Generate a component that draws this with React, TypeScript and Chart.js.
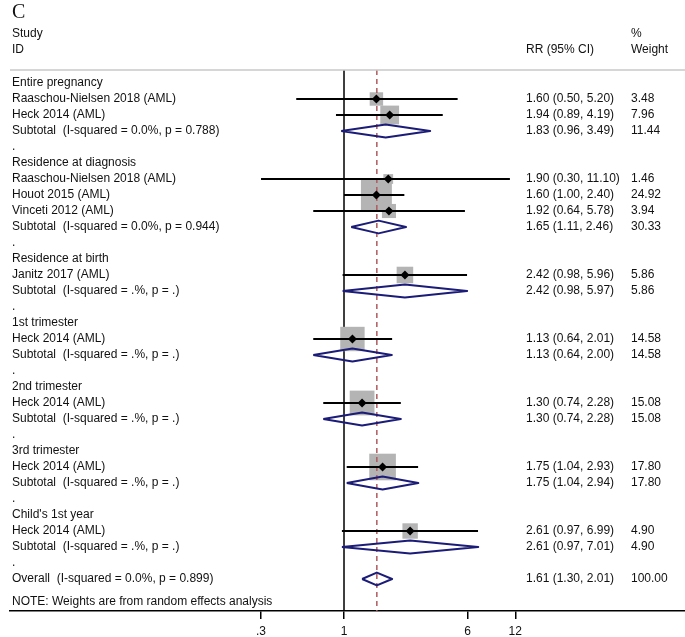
import React, { useEffect, useRef } from "react";
import { Chart, registerables } from "chart.js";

Chart.register(...registerables);

const rowLabels: string[] = [
  "Entire pregnancy",
  "Raaschou-Nielsen 2018 (AML)",
  "Heck 2014 (AML)",
  "Subtotal  (I-squared = 0.0%, p = 0.788)",
  ".",
  "Residence at diagnosis",
  "Raaschou-Nielsen 2018 (AML)",
  "Houot 2015 (AML)",
  "Vinceti 2012 (AML)",
  "Subtotal  (I-squared = 0.0%, p = 0.944)",
  ".",
  "Residence at birth",
  "Janitz 2017 (AML)",
  "Subtotal  (I-squared = .%, p = .)",
  ".",
  "1st trimester",
  "Heck 2014 (AML)",
  "Subtotal  (I-squared = .%, p = .)",
  ".",
  "2nd trimester",
  "Heck 2014 (AML)",
  "Subtotal  (I-squared = .%, p = .)",
  ".",
  "3rd trimester",
  "Heck 2014 (AML)",
  "Subtotal  (I-squared = .%, p = .)",
  ".",
  "Child's 1st year",
  "Heck 2014 (AML)",
  "Subtotal  (I-squared = .%, p = .)",
  ".",
  "Overall  (I-squared = 0.0%, p = 0.899)",
];

// h = group heading, s = study, t = subtotal / overall, g = blank
const rowKinds: string[] = [
  "h", "s", "s", "t", "g",
  "h", "s", "s", "s", "t", "g",
  "h", "s", "t", "g",
  "h", "s", "t", "g",
  "h", "s", "t", "g",
  "h", "s", "t", "g",
  "h", "s", "t", "g",
  "t",
];

const rr: (number | null)[] = [
  null, 1.6, 1.94, 1.83, null,
  null, 1.9, 1.6, 1.92, 1.65, null,
  null, 2.42, 2.42, null,
  null, 1.13, 1.13, null,
  null, 1.3, 1.3, null,
  null, 1.75, 1.75, null,
  null, 2.61, 2.61, null,
  1.61,
];

const lower: (number | null)[] = [
  null, 0.5, 0.89, 0.96, null,
  null, 0.3, 1.0, 0.64, 1.11, null,
  null, 0.98, 0.98, null,
  null, 0.64, 0.64, null,
  null, 0.74, 0.74, null,
  null, 1.04, 1.04, null,
  null, 0.97, 0.97, null,
  1.3,
];

const upper: (number | null)[] = [
  null, 5.2, 4.19, 3.49, null,
  null, 11.1, 2.4, 5.78, 2.46, null,
  null, 5.96, 5.97, null,
  null, 2.01, 2.0, null,
  null, 2.28, 2.28, null,
  null, 2.93, 2.94, null,
  null, 6.99, 7.01, null,
  2.01,
];

const weights: (number | null)[] = [
  null, 3.48, 7.96, 11.44, null,
  null, 1.46, 24.92, 3.94, 30.33, null,
  null, 5.86, 5.86, null,
  null, 14.58, 14.58, null,
  null, 15.08, 15.08, null,
  null, 17.8, 17.8, null,
  null, 4.9, 4.9, null,
  100.0,
];

const xTicks: number[] = [0.3, 1, 6, 12];
const xTickLabels: string[] = [".3", "1", "6", "12"];

const FONT = "Liberation Sans, Arial, sans-serif";
const TEXT = "#111";

export default function App() {
  const ref = useRef<HTMLCanvasElement | null>(null);

  useEffect(() => {
    if (!ref.current) return;
    const Y_MIN = -0.8125;
    const Y_MAX = 33;
    const datasets: any[] = [];
    const overallIdx = rowLabels.length - 1;

    // CI lines
    rowKinds.forEach((k, i) => {
      if (k !== "s") return;
      datasets.push({
        data: [
          { x: lower[i], y: i },
          { x: upper[i], y: i },
        ],
        showLine: true,
        borderColor: "#000",
        borderWidth: 2,
        pointRadius: 0,
        order: 3,
      });
    });

    // weight boxes
    const boxData: any[] = [];
    const boxRadius: number[] = [];
    rowKinds.forEach((k, i) => {
      if (k !== "s") return;
      boxData.push({ x: rr[i], y: i });
      const side = 3 + 5.6 * Math.sqrt(weights[i] as number);
      boxRadius.push(side / Math.SQRT2);
    });
    datasets.push({
      data: boxData,
      pointStyle: "rect",
      pointRadius: boxRadius,
      backgroundColor: "#b4b4b4",
      borderWidth: 0,
      order: 5,
    });

    // point estimates
    datasets.push({
      data: boxData,
      pointStyle: "rectRot",
      pointRadius: 4.5,
      backgroundColor: "#000",
      borderWidth: 0,
      order: 1,
    });

    // diamonds
    const H = 0.4;
    rowKinds.forEach((k, i) => {
      if (k !== "t") return;
      datasets.push({
        data: [
          { x: lower[i], y: i },
          { x: rr[i], y: i - H },
          { x: upper[i], y: i },
          { x: rr[i], y: i + H },
          { x: lower[i], y: i },
        ],
        showLine: true,
        borderColor: "#1b1b78",
        borderWidth: 2,
        borderJoinStyle: "round",
        pointRadius: 0,
        order: 2,
      });
    });

    // null line at 1
    datasets.push({
      data: [
        { x: 1, y: Y_MIN },
        { x: 1, y: Y_MAX },
      ],
      showLine: true,
      borderColor: "#000",
      borderWidth: 1.5,
      pointRadius: 0,
      order: 6,
    });

    // overall effect dashed line
    datasets.push({
      data: [
        { x: rr[overallIdx], y: Y_MIN },
        { x: rr[overallIdx], y: Y_MAX },
      ],
      showLine: true,
      borderColor: "#b05a5e",
      borderWidth: 1.5,
      borderDash: [5, 4],
      pointRadius: 0,
      order: 4,
    });

    const textPlugin = {
      id: "forestText",
      afterDraw(chart: any) {
        const { ctx, chartArea } = chart;
        const ys = chart.scales.y;
        ctx.save();
        // header separator
        ctx.strokeStyle = "#c8c8c8";
        ctx.lineWidth = 1.5;
        ctx.beginPath();
        ctx.moveTo(chartArea.left, chartArea.top);
        ctx.lineTo(chartArea.right, chartArea.top);
        ctx.stroke();

        ctx.fillStyle = TEXT;
        ctx.textBaseline = "middle";
        ctx.textAlign = "left";
        ctx.font = "20px Liberation Serif, Times New Roman, serif";
        ctx.fillText("C", 12, 13);

        ctx.font = `12px ${FONT}`;
        ctx.fillText("Study", 12, 34);
        ctx.fillText("ID", 12, 50);
        ctx.fillText("RR (95% CI)", 526, 50);
        ctx.fillText("%", 631, 34);
        ctx.fillText("Weight", 631, 50);

        rowLabels.forEach((lab, i) => {
          const y = ys.getPixelForValue(i);
          ctx.fillText(lab, 12, y);
          if (rr[i] != null) {
            const s = `${(rr[i] as number).toFixed(2)} (${(lower[i] as number).toFixed(2)}, ${(upper[i] as number).toFixed(2)})`;
            ctx.fillText(s, 526, y);
            ctx.fillText((weights[i] as number).toFixed(2), 631, y);
          }
        });
        ctx.fillText("NOTE: Weights are from random effects analysis", 12, chartArea.bottom - 9);
        ctx.restore();
      },
    };

    const chart = new Chart(ref.current, {
      type: "scatter",
      data: { datasets },
      plugins: [textPlugin],
      options: {
        animation: false,
        responsive: false,
        devicePixelRatio: 1,
        events: [],
        layout: { autoPadding: false, padding: { left: 10, right: 0, top: 70, bottom: 0 } },
        plugins: { legend: { display: false }, tooltip: { enabled: false } },
        scales: {
          x: {
            type: "logarithmic",
            position: "bottom",
            min: 0.00786,
            max: 140.8,
            afterBuildTicks: (s: any) => {
              s.ticks = xTicks.map((v) => ({ value: v }));
            },
            afterFit: (s: any) => {
              s.height = 26;
              s.paddingLeft = 0;
              s.paddingRight = 0;
            },
            ticks: {
              autoSkip: false,
              maxRotation: 0,
              padding: 5,
              color: TEXT,
              font: { family: FONT, size: 12 },
              callback: (_v: any, idx: number) => xTickLabels[idx],
            },
            grid: {
              display: true,
              drawOnChartArea: false,
              drawTicks: true,
              tickLength: 8,
              color: "#000",
              lineWidth: 1.5,
            },
            border: { display: true, color: "#000", width: 1.5 },
          },
          y: {
            type: "linear",
            display: false,
            reverse: true,
            min: Y_MIN,
            max: Y_MAX,
          },
        },
      } as any,
    });
    return () => chart.destroy();
  }, []);

  return (
    <div style={{ position: "absolute", left: 0, top: 0, width: 685, height: 637, background: "#fff" }}>
      <canvas ref={ref} width={685} height={637} />
    </div>
  );
}
